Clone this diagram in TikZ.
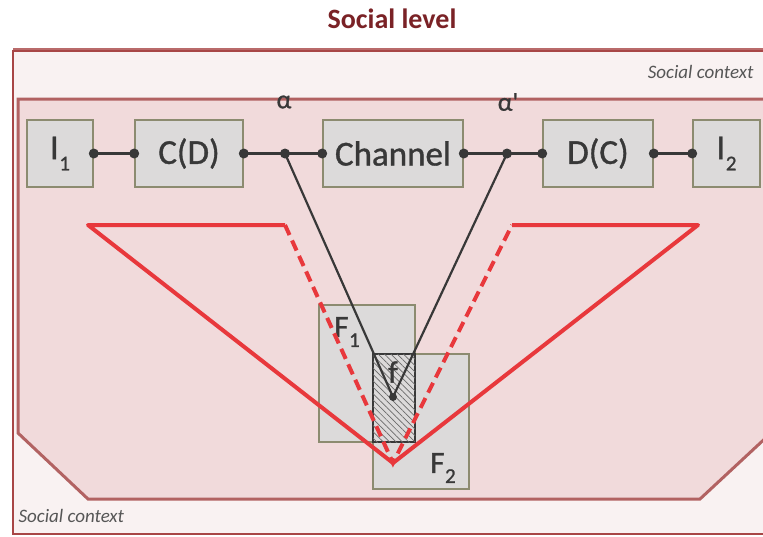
\documentclass[tikz,border=0pt]{standalone}
\usepackage{fontspec}
\setmainfont{Carlito}
\newfontfamily\heavyfont[FakeBold=1]{Carlito}
\usetikzlibrary{patterns.meta}
\definecolor{framered}{HTML}{A84646}
\definecolor{innerred}{HTML}{B26262}
\definecolor{paleback}{HTML}{F9F2F2}
\definecolor{innerfill}{HTML}{F1DADB}
\definecolor{boxfill}{HTML}{DCDADA}
\definecolor{boxline}{HTML}{8C8B70}
\definecolor{titlered}{HTML}{7A2226}
\definecolor{linered}{HTML}{E8383C}
\definecolor{txt}{HTML}{383838}
\newcommand{\subidx}[2]{#1\kern0.5pt\raisebox{-0.32em}{\fontsize{21}{21}\selectfont #2}}
\tikzset{
  blockbox/.style={draw=boxline, line width=1.6pt, fill=boxfill, minimum height=67pt,
    inner sep=0pt, text=txt, font=\heavyfont\fontsize{35}{35}\selectfont},
  areabox/.style={draw=boxline, line width=1.6pt, fill=boxfill, inner sep=0pt},
  link/.style={draw=txt, line width=2.2pt},
  dot/.style={circle, fill=txt, inner sep=0pt, minimum size=10pt},
  redline/.style={draw=linered, line width=4pt, line join=round},
  reddash/.style={draw=linered, line width=4pt, dash pattern=on 11pt off 6pt},
  ctx/.style={text=txt!85, font=\itshape\fontsize{19}{19}\selectfont},
  lab/.style={text=txt, font=\heavyfont\fontsize{31}{31}\selectfont},
  greek/.style={text=txt, font=\heavyfont\fontsize{26}{26}\selectfont},
}
\begin{document}
\begin{tikzpicture}[x=1pt, y=-1pt]
\useasboundingbox (0,0) rectangle (763,536);
\clip (0,0) rectangle (763,536);
\fill[white] (0,0) rectangle (763,536);

% title
\node[text=titlered, font=\bfseries\fontsize{28}{28}\selectfont, anchor=base] (title) at (392,28) {Social level};

% outer social context frame
\fill[paleback] (12,50) rectangle (780,534);
\draw[framered, line width=2.6pt] (780,534) -- (13,534) -- (13,51) -- (780,51);
\draw[framered!80, line width=1.5pt] (13,49) -- (780,49);

% inner context area
\filldraw[fill=innerfill, draw=innerred, line width=3pt]
  (18,99) -- (785,99) -- (785,420) -- (700,499) -- (88,499) -- (18,433) -- cycle;

\node[ctx, anchor=base east] (ctxtop) at (757,78) {Social context};
\node[ctx, anchor=base west] (ctxbot) at (15,522) {Social context};

% transmission chain
\node[blockbox, minimum width=66pt] (i1) at (60,153.5) {\subidx{I}{1}};
\node[blockbox, minimum width=108pt] (cd) at (189,153.5) {C(D)};
\node[blockbox, minimum width=140pt] (ch) at (393,153.5) {Channel};
\node[blockbox, minimum width=110pt] (dc) at (598,153.5) {D(C)};
\node[blockbox, minimum width=67pt] (i2) at (726.5,153.5) {\subidx{I}{2}};

\coordinate (a1) at (285,153.5);
\coordinate (a2) at (507,153.5);
\node[greek] (a1lab) at (284,102) {α};
\node[greek] (a2lab) at (508,102) {α'};

\draw[link] (i1.east) -- (cd.west);
\draw[link] (cd.east) -- (a1) -- (ch.west);
\draw[link] (ch.east) -- (a2) -- (dc.west);
\draw[link] (dc.east) -- (i2.west);
\foreach \p in {i1.east, cd.west, cd.east, a1, ch.west, ch.east, a2, dc.west, dc.east, i2.west}
  \node[dot] at (\p) {};

% F1, F2 and their overlap f
\node[areabox, minimum width=96pt, minimum height=137pt] (F1) at (367,373.5) {};
\node[areabox, minimum width=96pt, minimum height=135pt] (F2) at (421,421.5) {};
\node[draw=txt, line width=1.4pt, fill=boxfill, minimum width=42pt, minimum height=88pt, inner sep=0pt,
  postaction={pattern={Lines[angle=-45, distance=4.5pt, line width=0.7pt]}, pattern color=txt!75}]
  (f) at (394,398) {};
\node[lab] (flab) at (393,372) {f};
\node[lab] (F1lab) at (347,332) {\subidx{F}{1}};
\node[lab] (F2lab) at (443,468) {\subidx{F}{2}};
\coordinate (fd) at (393,397);

% mappings into f
\draw[link] (a1) -- (fd) -- (a2);
\node[dot, minimum size=8pt] at (fd) {};

% red funnels
\coordinate (apex) at (393,463);
\coordinate (lo) at (88,225);
\coordinate (li) at (285,225);
\coordinate (ri) at (512,225);
\coordinate (ro) at (698,225);
\draw[redline] (li) -- (lo) -- (apex) -- (ro) -- (ri);
\draw[reddash] (li) -- (apex) -- (ri);
\end{tikzpicture}
\end{document}
